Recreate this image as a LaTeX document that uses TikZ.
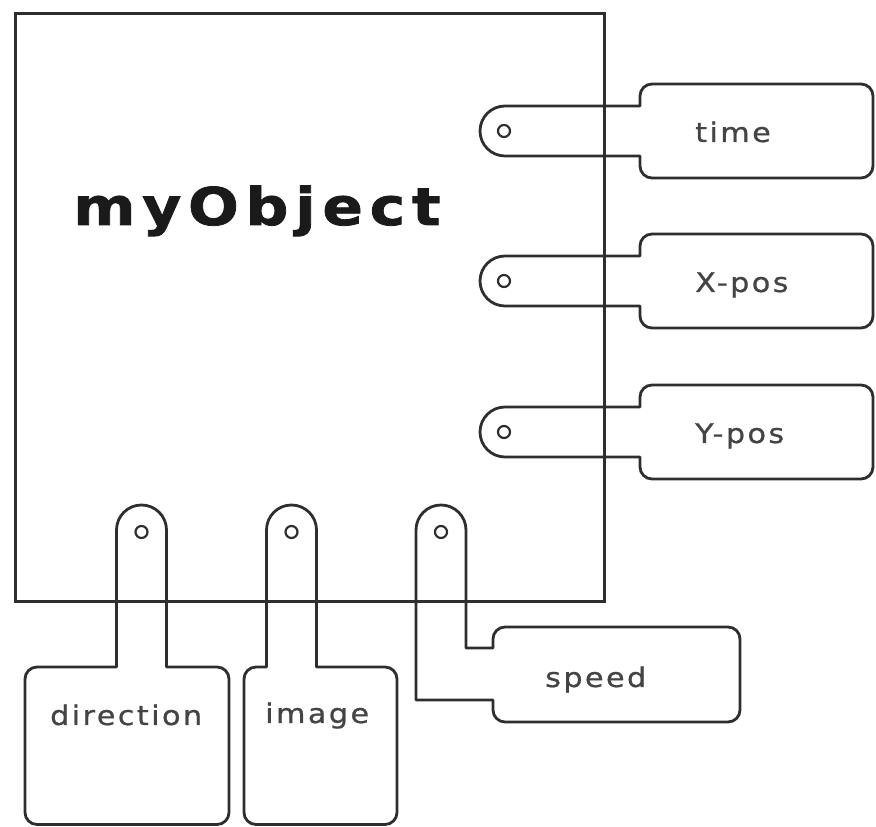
\documentclass[tikz,border=0pt]{standalone}
\usepackage{fontspec}
\setmainfont{DejaVu Sans}
\newfontfamily\labfont[LetterSpace=9,FakeStretch=1.12,FakeBold=0.8]{DejaVu Sans}
\newfontfamily\titfont[LetterSpace=13,FakeStretch=1.15,FakeBold=1.5]{DejaVu Sans}
\definecolor{ln}{HTML}{2E2E2E}
\definecolor{tx}{HTML}{444444}
\definecolor{tt}{HTML}{1A1A1A}
\begin{document}
\begin{tikzpicture}[x=1pt,y=1pt,
  tagline/.style={draw=ln, line width=2.8pt, line join=round},
  hole/.style={draw=ln, line width=2.2pt},
  lab/.style={font=\labfont\fontsize{27}{30}\selectfont, text=tx, inner sep=0pt, anchor=base west},
  title/.style={font=\titfont\bfseries\fontsize{52}{60}\selectfont, text=tt, inner sep=0pt, anchor=base west},
]
\useasboundingbox (0,0) rectangle (876,827);
\node[draw=ln, line width=2.8pt, minimum width=589pt, minimum height=588pt, inner sep=0pt, anchor=north west] (obj) at (14,815) {};
\node[title] (name) at (73,602) {myObject};
% right tags
\foreach \Y/\lab/\nm in {696/time/t,546/X-pos/x,395/Y-pos/y}{
  \draw[tagline] (505,\Y+25) -- (640,\Y+25) -- (640,\Y+35)
    arc[start angle=180,end angle=90,radius=12pt] -- (861,\Y+47)
    arc[start angle=90,end angle=0,radius=12pt] -- (873,\Y-35)
    arc[start angle=0,end angle=-90,radius=12pt] -- (652,\Y-47)
    arc[start angle=270,end angle=180,radius=12pt] -- (640,\Y-25) -- (505,\Y-25)
    arc[start angle=270,end angle=90,radius=25pt] -- cycle;
  \draw[hole] (504,\Y) circle[radius=6pt];
  \node[lab] (\nm) at (695,\Y-11) {\lab};
}
% direction tag
\draw[tagline] (116.5,297) -- (116.5,160) -- (37,160)
  arc[start angle=90,end angle=180,radius=12pt] -- (25,14.5)
  arc[start angle=180,end angle=270,radius=12pt] -- (217,2.5)
  arc[start angle=270,end angle=360,radius=12pt] -- (229,148)
  arc[start angle=0,end angle=90,radius=12pt] -- (166.5,160) -- (166.5,297)
  arc[start angle=0,end angle=180,radius=25pt] -- cycle;
\draw[hole] (141.5,295) circle[radius=6pt];
\node[lab] (dir) at (50,102) {direction};
% image tag
\draw[tagline] (266.5,297) -- (266.5,160) -- (256,160)
  arc[start angle=90,end angle=180,radius=12pt] -- (244,14.5)
  arc[start angle=180,end angle=270,radius=12pt] -- (385,2.5)
  arc[start angle=270,end angle=360,radius=12pt] -- (397,148)
  arc[start angle=0,end angle=90,radius=12pt] -- (316.5,160) -- (316.5,297)
  arc[start angle=0,end angle=180,radius=25pt] -- cycle;
\draw[hole] (291.5,295) circle[radius=6pt];
\node[lab] (img) at (265,104) {image};
% speed tag
\draw[tagline] (416,297) -- (416,127) -- (493,127) -- (493,117)
  arc[start angle=180,end angle=270,radius=12pt] -- (728,105)
  arc[start angle=270,end angle=360,radius=12pt] -- (740,188)
  arc[start angle=0,end angle=90,radius=12pt] -- (505,200)
  arc[start angle=90,end angle=180,radius=12pt] -- (493,179) -- (466,179) -- (466,297)
  arc[start angle=0,end angle=180,radius=25pt] -- cycle;
\draw[hole] (441,295) circle[radius=6pt];
\node[lab] (spd) at (545,140) {speed};
\end{tikzpicture}
\end{document}
